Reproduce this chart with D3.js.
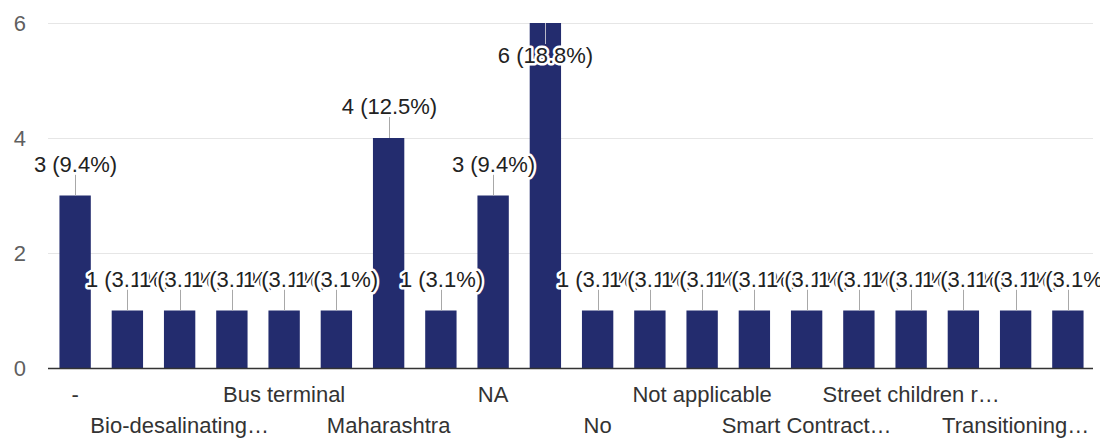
<!DOCTYPE html>
<html>
<head>
<meta charset="utf-8">
<script src="https://cdn.jsdelivr.net/npm/d3@7/dist/d3.min.js"></script>
<style>
  html, body { margin: 0; padding: 0; background: #fff; }
  svg { display: block; font-family: "Liberation Sans", Arial, sans-serif; }
</style>
</head>
<body>
<svg id="chart" width="1100" height="440"></svg>
<script>
// Responses per answer (sorted alphabetically). The axis only has room
// for every second label, so the skipped ones are left blank.
const categories = [
  "-", "", "Bio-desalinating…", "", "Bus terminal", "",
  "Maharashtra", "", "NA", "", "No", "", "Not applicable", "",
  "Smart Contract…", "", "Street children r…", "", "Transitioning…", ""
];
const counts = [3, 1, 1, 1, 1, 1, 4, 1, 3, 6, 1, 1, 1, 1, 1, 1, 1, 1, 1, 1];
const yTicks = [0, 2, 4, 6];

const total = d3.sum(counts);
const svg = d3.select("#chart");

const x = d3.scaleBand()
  .domain(d3.range(counts.length))
  .range([49, 1094])
  .paddingInner(0.4)
  .paddingOuter(0.2);

const y = d3.scaleLinear().domain([0, 6]).range([368, 23]);

// horizontal gridlines
svg.append("g")
  .selectAll("line")
  .data(yTicks.filter(t => t > 0))
  .join("line")
  .attr("x1", 48).attr("x2", 1093)
  .attr("y1", d => Math.round(y(d)) + 0.5)
  .attr("y2", d => Math.round(y(d)) + 0.5)
  .attr("stroke", "#e6e6e6")
  .attr("stroke-width", 1);

// y axis labels
const yAxis = d3.axisLeft(y)
  .tickValues(yTicks)
  .tickFormat(d3.format("d"))
  .tickSize(0)
  .tickPadding(0);
svg.append("g")
  .attr("transform", "translate(26,0)")
  .call(yAxis)
  .call(g => g.select(".domain").remove())
  .call(g => g.selectAll("text")
    .attr("font-size", 22)
    .attr("font-family", "Liberation Sans, Arial, sans-serif")
    .attr("fill", "#5f5f5f")
    .attr("dy", "0.36em"));

// bars
svg.append("g")
  .selectAll("rect")
  .data(counts)
  .join("rect")
  .attr("x", (d, i) => x(i))
  .attr("width", x.bandwidth())
  .attr("y", d => y(d))
  .attr("height", d => y(0) - y(d))
  .attr("fill", "#232c6e");

// baseline
svg.append("line")
  .attr("x1", 48).attr("x2", 1093)
  .attr("y1", y(0) + 0.5).attr("y2", y(0) + 0.5)
  .attr("stroke", "#333")
  .attr("stroke-width", 1.5);

// x axis labels, staggered on two rows
const xAxis = svg.append("g").attr("font-size", 22).attr("fill", "#333");
xAxis.selectAll("text")
  .data(categories.map((c, i) => ({ c, i })).filter(d => d.c !== ""))
  .join("text")
  .attr("x", d => x(d.i) + x.bandwidth() / 2)
  .attr("y", (d, k) => (k % 2 === 0 ? 402 : 433))
  .attr("text-anchor", "middle")
  .text(d => d.c);

// value annotations: a short stem and "n (p%)" text with a white halo
const stemLen = 21;
const plotTop = y(6);
const ann = svg.append("g");
counts.forEach((v, i) => {
  const cx = Math.round(x(i) + x.bandwidth() / 2) + 0.5;
  const yTop = y(v);
  const inside = yTop - stemLen - 22 < plotTop - 5;
  const stemEnd = inside ? yTop + stemLen : yTop - stemLen;
  ann.append("line")
    .attr("x1", cx).attr("x2", cx)
    .attr("y1", yTop).attr("y2", stemEnd)
    .attr("stroke", inside ? "#b8b8c8" : "#a8a8a8")
    .attr("stroke-width", 1);
  const pct = (v / total * 100).toFixed(1);
  ann.append("text")
    .attr("x", cx)
    .attr("y", inside ? stemEnd + 19 : stemEnd - 3)
    .attr("text-anchor", "middle")
    .attr("font-size", 22)
    .attr("fill", "#222")
    .attr("stroke", "#fff")
    .attr("stroke-width", 5)
    .attr("stroke-linejoin", "round")
    .attr("paint-order", "stroke")
    .text(`${v} (${pct}%)`);
});
</script>
</body>
</html>
